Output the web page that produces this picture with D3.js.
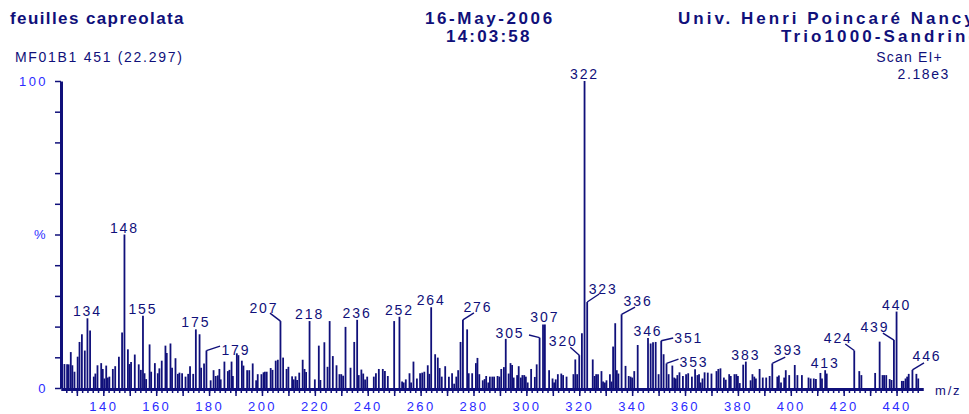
<!DOCTYPE html>
<html>
<head>
<meta charset="utf-8">
<script src="https://cdn.jsdelivr.net/npm/d3@7"></script>
<style>
  body { margin: 0; background: #fff; overflow: hidden; }
  svg { display: block; font-family: "Liberation Sans", Arial, sans-serif; }
</style>
</head>
<body>
<div id="ms"></div>
<script>
// m/z of every centroid line and its relative abundance (% of base peak)
const mz = [125.3,126.3,126.9,127.7,128.3,129.1,130.3,131.0,131.9,133.0,134,135.0,136.4,137.0,137.8,139.2,139.8,140.4,141.1,141.7,142.3,143.6,144.5,145.9,147.1,148,149.3,149.9,150.5,151.9,153.4,154.2,155,155.6,156.2,157.5,158.1,159.5,160.6,161.2,162.1,163.5,164.0,165.4,166.0,167.3,168.2,168.8,169.8,171.1,172.1,172.8,174.0,175,176.4,177.0,178.1,179,180.6,181.7,182.5,183.3,183.9,184.4,185.8,187.1,187.7,188.5,189.0,190.5,191.1,192.4,193.0,194.4,195.2,196.5,197.8,198.4,199.8,200.6,201.1,201.8,203.3,204.0,205.2,206.0,207,208.0,209.3,210.0,211.4,212.0,212.7,213.3,214.1,215.4,216.1,216.7,218,220.0,221.5,222.1,223.6,224.8,225.6,226.8,228.2,229.3,230.0,230.7,231.6,233.5,234.9,236,236.6,237.6,238.3,239.0,239.8,242.3,243.1,244.2,245.7,246.5,247.6,250,252,253.0,253.6,254.4,255.8,256.4,257.3,258.6,259.8,260.6,261.4,262.7,263.3,264,265.5,266.5,267.2,268.0,269.3,270.7,271.9,272.7,273.5,274.2,275.1,276,277.6,278.2,279.5,280.9,281.5,282.2,283.5,284.2,284.8,285.6,286.2,287.1,287.8,289.1,289.8,290.5,291.5,292.2,293.3,294.0,294.6,295.2,296.5,297.1,297.9,298.5,299.2,299.8,300.5,301.8,303.2,303.9,305,306.3,307,308.6,309.9,310.5,311.1,311.9,313.2,313.9,315.2,317.8,318.5,319.2,320,321,322,323,325.1,325.8,326.4,327.1,328.4,329.0,329.7,330.3,331.6,332.2,332.8,333.6,334.2,334.8,336,337.5,338.7,339.4,340.0,340.8,342.1,346,347,347.9,348.9,350.0,351,351.9,353,353.8,355.2,355.9,356.5,357.1,357.9,359.2,360.4,361.2,362.6,363.8,364.7,365.3,365.9,366.6,367.4,368.6,370.0,371.9,372.6,373.4,374.7,375.4,376.7,377.3,378.7,379.4,380.0,380.7,382,383,384.8,385.5,386.2,386.8,388.2,389.4,390.7,392.0,393,394.9,395.5,396.3,397.5,398.1,399.4,401.5,402.5,404.2,406.7,407.5,408.7,409.5,411.2,411.8,413,413.6,424,425.9,426.7,431.9,433.6,434.7,435.3,436.1,437.4,438.1,439,440,442.0,442.6,443.4,444.0,444.6,446,447.5,448.2];
const abundance = [7.8,7.7,7.7,11.7,7.4,5.3,10.2,15.0,17.5,12.2,22.7,18.7,3.7,4.7,7.4,8.1,6.2,3.1,7.3,3.4,3.7,6.2,7.1,10.2,18.1,50,12.6,7.8,8.5,10.9,7.7,5.9,23.5,4.8,2.9,14.2,5.3,8.1,4.8,6.4,8.9,13.8,11.4,14.5,6.6,9.7,4.6,5.0,4.8,3.7,4.6,7.1,4.6,19.1,17.5,6.6,8.0,12.2,2.5,5.8,3.9,4.1,6.2,2.8,8.6,5.5,5.9,8.6,3.9,11.3,10.7,8.9,7.3,5.8,5.8,8.0,2.5,4.5,4.5,5.1,5.3,5.3,6.5,5.9,8.9,9.2,21.8,9.9,6.2,6.9,3.8,2.8,3.8,2.6,5.0,9.2,6.2,5.2,21.8,2.8,13.8,2.6,14.9,6.9,21.8,10.4,7.4,4.5,4.5,4.0,19.9,6.6,15.0,22.2,4.2,6.0,4.7,2.8,3.7,3.7,4.8,6.2,6.2,5.5,3.9,21.8,23.2,2.1,1.8,2.8,4.8,1.8,8.6,3.1,4.8,5.0,5.3,7.4,4.6,26.3,11.0,9.9,6.5,3.7,7.1,3.7,4.8,1.4,3.7,5.8,15.0,22.2,19.1,4.8,4.8,8.1,9.8,4.5,2.5,2.9,3.9,1.8,3.7,3.7,3.7,3.9,3.7,6.2,6.8,16.0,4.7,8.1,7.5,3.4,4.2,7.1,3.4,4.2,4.2,3.7,1.8,6.2,3.6,7.7,16.4,20.7,20.7,5.8,3.1,1.8,2.8,4.5,4.7,4.2,3.7,4.5,9.3,4.5,10.7,17.8,100,28,9.3,3.9,4.5,4.5,5.5,2.1,1.8,2.5,4.5,2.1,13.5,21.1,5.8,4.7,24,7.2,3.9,3.7,3.4,5.5,14.0,16.3,14.5,14.9,15.0,4.5,15.4,11.0,8.0,4.5,7.3,3.4,3.1,4.2,5.1,3.9,4.5,4.8,3.7,6.1,4.2,4.5,1.8,3.1,5.1,5.0,4.7,5.5,6.2,6.4,3.4,2.7,4.5,3.9,4.5,4.5,3.9,1.6,7.6,8.6,2.5,4.5,3.7,3.1,6.2,3.4,3.4,3.9,8.0,3.7,4.1,1.8,3.4,5.8,4.2,7.5,4.2,4.2,3.4,3.1,3.1,2.9,4.9,3.1,5.8,4.7,12.2,5.5,4.2,4.9,15.1,4.2,4.2,4.2,2.9,2.6,15.6,24.9,2.3,2.3,3.1,3.7,4.6,5.9,4.6,3.1];

// peaks annotated with their nominal mass
const labelled = [134,148,155,175,179,207,218,236,252,264,276,305,307,320,322,323,336,346,351,353,383,393,413,424,439,440,446];

const xTickLabels = d3.range(140, 441, 20);
const yTickValues = d3.range(0, 101, 10);

// labels moved off their peak: [leader end dx,dy], [text dx,dy], anchor
const moved = {
  179: [[13.6,-4.5],[15,4.5],'start'],
  207: [[-10.5,-8],[-16.5,-8.5],'middle'],
  276: [[11,-7],[15,-8.3],'middle'],
  305: [[-10.6,-2.7],[-29.6,0],'middle'],
  320: [[-9,-8],[-16,-8.7],'middle'],
  323: [[12,-8],[16,-8.5],'middle'],
  336: [[13.5,-7.3],[16.5,-8.8],'middle'],
  351: [[12,-2.7],[13,2.5],'start'],
  353: [[12,-4.4],[13,3.5],'start'],
  393: [[13,-6.4],[16,-8],'middle'],
  424: [[-9,-6.5],[-16,-8],'middle'],
  439: [[-11,-7],[-19,-8.6],'middle'],
  446: [[11.6,-7],[14.6,-8.4],'middle']
};

const width = 969, height = 414;
const navy = '#10107a', blue = '#2b2bff';

const svg = d3.select('#ms').append('svg')
  .attr('width', width)
  .attr('height', height);

const x = d3.scaleLinear().domain([124, 450]).range([61, 923]);
const y = d3.scaleLinear().domain([0, 100]).range([388, 81]);

// header
function txt(t, px, py, size, weight, anchor, ls) {
  return svg.append('text')
    .attr('x', px).attr('y', py)
    .attr('text-anchor', anchor)
    .style('font-size', size + 'px')
    .style('font-weight', weight)
    .style('letter-spacing', ls + 'px')
    .style('fill', navy)
    .text(t);
}
txt('feuilles capreolata', 10, 24, 17, 'bold', 'start', 1.4);
txt('16-May-2006', 425, 24, 17, 'bold', 'start', 2.6);
txt('14:03:58', 446, 42, 17, 'bold', 'start', 2.2);
txt('Univ. Henri Poincaré Nancy', 678, 24, 17, 'bold', 'start', 3.0);
txt('Trio1000-Sandrine', 781, 42, 17, 'bold', 'start', 3.1);
txt('MF01B1 451 (22.297)', 15, 62, 14, 'normal', 'start', 1.7);
txt('Scan EI+', 943, 62, 14, 'normal', 'end', 1.2);
txt('2.18e3', 950, 79, 14, 'normal', 'end', 1.6);

// spectrum lines
svg.append('g').selectAll('line')
  .data(mz)
  .join('line')
  .attr('x1', d => x(d)).attr('x2', d => x(d))
  .attr('y1', y(0))
  .attr('y2', (d, i) => y(abundance[i]))
  .attr('stroke', navy)
  .attr('stroke-width', 1.8);

// axes
const yAxis = d3.axisLeft(y)
  .tickValues(yTickValues)
  .tickSize(6)
  .tickSizeOuter(0)
  .tickPadding(7)
  .tickFormat(d => d === 100 ? '100' : d === 50 ? '%' : d === 0 ? '0' : '');
svg.append('g').attr('transform', 'translate(61,0)').call(yAxis);

const xMinor = d3.axisBottom(x)
  .tickValues(d3.range(126, 450, 2))
  .tickSize(4)
  .tickSizeOuter(0)
  .tickFormat('');
const xMajor = d3.axisBottom(x)
  .tickValues(d3.range(130, 450, 10))
  .tickSize(7)
  .tickSizeOuter(0)
  .tickPadding(6)
  .tickFormat(d => xTickLabels.includes(d) ? d : '');
svg.append('g').attr('transform', 'translate(0,389)').call(xMinor);
svg.append('g').attr('transform', 'translate(0,389)').call(xMajor);

svg.selectAll('.domain').attr('stroke', navy).attr('stroke-width', 3);
svg.selectAll('.tick line').attr('stroke', navy).attr('stroke-width', 1.5);
svg.selectAll('.tick text')
  .style('font-size', '13px')
  .style('letter-spacing', '2.4px')
  .style('fill', blue);

txt('m/z', 935, 395, 13, 'normal', 'start', 1.8);

// peak labels
const lab = svg.append('g');
labelled.forEach(m => {
  const i = mz.indexOf(m);
  const px = x(m), py = y(abundance[i]);
  const mv = moved[m];
  if (mv) {
    lab.append('line')
      .attr('x1', px).attr('y1', py)
      .attr('x2', px + mv[0][0]).attr('y2', py + mv[0][1])
      .attr('stroke', navy).attr('stroke-width', 1.4);
  }
  lab.append('text')
    .attr('x', mv ? px + mv[1][0] : px)
    .attr('y', mv ? py + mv[1][1] : py - 2)
    .attr('text-anchor', mv ? mv[2] : 'middle')
    .style('font-size', '14px')
    .style('letter-spacing', '1.9px')
    .style('fill', navy)
    .text(m);
});
</script>
</body>
</html>
